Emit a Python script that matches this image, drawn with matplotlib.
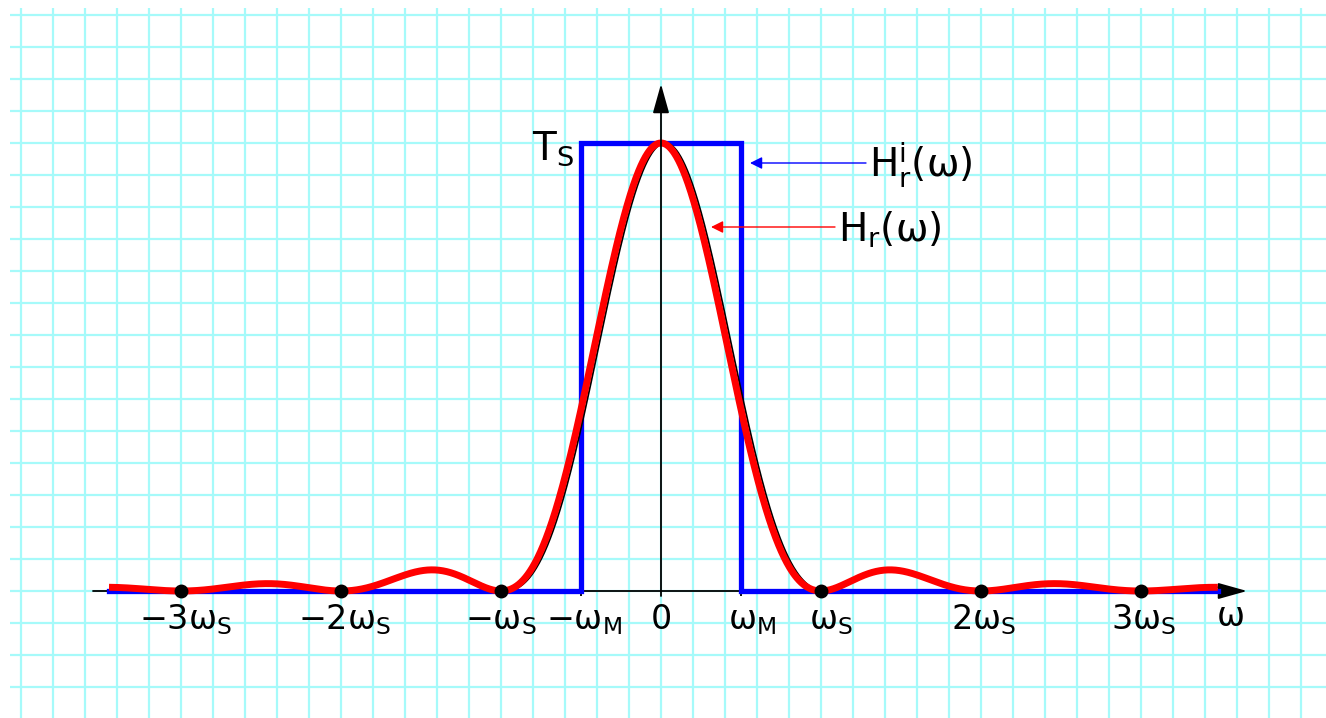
import matplotlib

matplotlib.use("Agg")
import matplotlib.pyplot as plt
import matplotlib.patheffects as pe
import numpy as np

# ---- signal parameters (units: omega_s along x, Ts along y) ----
ws = 1.0
wM = 0.5
Ts = 1.0
w_lo, w_hi = -3.45, 3.48

sample_k = [-3, -2, -1, 1, 2, 3]
tick_pos = [-3, -2, -1, -0.5, 0, 0.5, 1, 2, 3]
tick_txt = [
    "\u22123\u03c9$_\\mathrm{S}$",
    "\u22122\u03c9$_\\mathrm{S}$",
    "\u2212\u03c9$_\\mathrm{S}$",
    "\u2212\u03c9$_\\mathrm{M}$",
    "0",
    "\u03c9$_\\mathrm{M}$",
    "\u03c9$_\\mathrm{S}$",
    "2\u03c9$_\\mathrm{S}$",
    "3\u03c9$_\\mathrm{S}$",
]
tick_dx_px = [4, 3, 0, 3, 0, 11, 10, 3, 3]

plt.rcParams["font.family"] = ["DejaVu Sans"]
plt.rcParams["mathtext.fontset"] = "dejavusans"

W, H = 1326, 718
X0, Y0 = 661, 591  # pixel position of origin
PX_W, PX_H = 160, 448  # pixels per omega_s and per Ts

fig = plt.figure(figsize=(W / 100, H / 100), dpi=100)
ax = fig.add_axes([0, 0, 1, 1])
ax.axis("off")
ax.set_xlim(-X0 / PX_W, (W - X0) / PX_W)
ax.set_ylim((Y0 - H) / PX_H, Y0 / PX_H)

# ---- graph-paper grid ----
gc = "#a6fafa"
gx = np.arange(-4.0, 4.01, 0.2)
gy = np.arange(-3, 19) / 14
ax.vlines(gx, ax.get_ylim()[0], (Y0 - 8) / PX_H, color=gc, lw=1.6, zorder=0)
ax.hlines(gy, (10 - X0) / PX_W, ax.get_xlim()[1], color=gc, lw=1.6, zorder=0)

# ---- axes with arrow heads ----
head = dict(arrowstyle="-|>,head_length=1.0,head_width=0.28", mutation_scale=18,
            color="k", lw=1.3, shrinkA=0, shrinkB=0)
ax.annotate("", xy=((1247 - X0) / PX_W, 0), xytext=((93 - X0) / PX_W, 0),
            arrowprops=head, zorder=1)
ax.annotate("", xy=(0, (Y0 - 84) / PX_H), xytext=(0, -5 / PX_H),
            arrowprops=head, zorder=6)
ax.vlines([-wM, wM], -5 / PX_H, 0, color="k", lw=1.3, zorder=1)

# ---- ideal reconstruction filter (blue) ----
rect_x = [w_lo, -wM, -wM, wM, wM, w_hi]
rect_y = [0, 0, Ts, Ts, 0, 0]
ax.plot(rect_x, rect_y, color="#0000ff", lw=3.8, solid_joinstyle="miter", zorder=2)

# ---- real filter, Ts*sinc^2 (red with black edge) ----
w = np.linspace(w_lo, w_hi, 2000)
Hr = Ts * np.sinc(w / ws) ** 2
ax.plot(w, Hr, color="#ff0000", lw=5, solid_capstyle="butt", zorder=3,
        path_effects=[pe.SimpleLineShadow(offset=(3.0, 0), shadow_color="k", alpha=1.0,
                                          rho=1.0, linewidth=1.3), pe.Normal()])

# sample points
ax.plot([k * ws for k in sample_k], [0] * len(sample_k), "o", color="k", ms=9, zorder=7)

# ---- tick labels ----
for p, t, dx in zip(tick_pos, tick_txt, tick_dx_px):
    ax.text(p + dx / PX_W, (Y0 - 629) / PX_H, t, ha="center", va="baseline", fontsize=24, zorder=8)
ax.text((1231 - X0) / PX_W, (Y0 - 626) / PX_H, "\u03c9", ha="center", va="baseline", fontsize=24)

ax.text((532 - X0) / PX_W, (Y0 - 160) / PX_H, "T$_\\mathrm{S}$", ha="left", va="baseline", fontsize=28)

# ---- annotations ----
small = dict(arrowstyle="-|>,head_length=0.6,head_width=0.3", mutation_scale=12,
             lw=1.0, shrinkA=0, shrinkB=0)
ax.annotate("", xy=((750 - X0) / PX_W, (Y0 - 163) / PX_H),
            xytext=((866 - X0) / PX_W, (Y0 - 163) / PX_H),
            arrowprops=dict(small, color="#0000ff"), zorder=5)
ax.annotate("", xy=((711 - X0) / PX_W, (Y0 - 227) / PX_H),
            xytext=((835 - X0) / PX_W, (Y0 - 227) / PX_H),
            arrowprops=dict(small, color="#ff0000"), zorder=5)
ax.text((869 - X0) / PX_W, (Y0 - 178) / PX_H, "H$_\\mathrm{r}^\\mathrm{i}$(\u03c9)",
        ha="left", va="baseline", fontsize=28)
ax.text((838 - X0) / PX_W, (Y0 - 242) / PX_H, "H$_\\mathrm{r}$(\u03c9)",
        ha="left", va="baseline", fontsize=28)

fig.savefig("out.png", dpi=100)
